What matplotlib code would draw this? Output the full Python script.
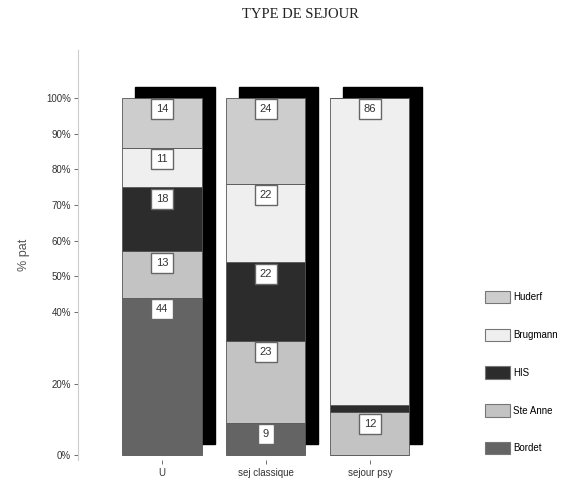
import numpy as np
import matplotlib.pyplot as plt
from matplotlib.patches import Rectangle, Patch

# Data: share of stays (%) per hospital, for each type of stay

stay_types = ["U", "sej classique", "sejour psy"]
hospitals = ["Bordet", "Ste Anne", "HIS", "Brugmann", "Huderf"]

bordet = [44, 9, 0]
ste_anne = [13, 23, 12]
his = [18, 22, 2]
brugmann = [11, 22, 86]
huderf = [14, 24, 0]

colors = ["#646464", "#c3c3c3", "#2c2c2c", "#efefef", "#cdcdcd"]

y_ticks = [0, 20, 40, 50, 60, 70, 80, 90, 100]
y_tick_labels = ["0%", "20%", "40%", "50%", "60%", "70%", "80%", "90%", "100%"]

series = [bordet, ste_anne, his, brugmann, huderf]

# Figure layout

fig = plt.figure(figsize=(5.77, 4.88), dpi=100)
ax = fig.add_axes([78 / 577, 1 - 460 / 488, 372 / 577, 410 / 488])

x = np.arange(len(stay_types))
width = 0.76
depth_x = 0.125
depth_y = 3.0

# Black depth block behind each bar
for i in range(len(x)):
    ax.add_patch(Rectangle((x[i] - width / 2 + depth_x, depth_y), width, 100,
                           facecolor="black", edgecolor="black", zorder=1))

# Stacked segments
bottom = np.zeros(len(x))
for values, color in zip(series, colors):
    values = np.array(values, dtype=float)
    ax.bar(x, values, width, bottom=bottom, color=color,
           edgecolor="#555555", linewidth=0.6, zorder=2)

    # value boxes near the top of each segment
    for i in range(len(x)):
        if values[i] >= 5:
            ax.text(x[i], bottom[i] + values[i] - 3.2, f"{values[i]:.0f}",
                    ha="center", va="center", fontsize=8, color="#333333",
                    family="Liberation Sans", zorder=4,
                    bbox=dict(boxstyle="square,pad=0.45", facecolor="white",
                              edgecolor="#666666", linewidth=1.0))
    bottom += values

ax.set_xlim(-0.808, 2.77)
ax.set_ylim(-1.4, 113.4)

ax.set_xticks(x)
ax.set_xticklabels(stay_types, fontsize=7, family="Liberation Sans")
ax.set_yticks(y_ticks)
ax.set_yticklabels(y_tick_labels, fontsize=7, family="Liberation Sans")
ax.tick_params(axis="y", length=3, width=0.6, colors="#555555", pad=2)
ax.tick_params(axis="x", length=3, width=0.6, colors="#555555", pad=3)
for lab in ax.get_xticklabels() + ax.get_yticklabels():
    lab.set_color("#333333")

for side in ["top", "right", "bottom"]:
    ax.spines[side].set_visible(False)
ax.spines["left"].set_color("#cccccc")
ax.spines["left"].set_linewidth(0.8)

ax.set_ylabel("% pat", fontsize=9, family="Liberation Sans", color="#555555",
              labelpad=12)

# Title
fig.text(300 / 577, 1 - 15 / 488, "TYPE DE SEJOUR", ha="center", va="center",
         fontsize=10.5, family="Liberation Serif", color="#222222")

# Legend, top entry is Huderf
handles = [Patch(facecolor=c, edgecolor="#777777", linewidth=0.8) for c in colors]
fig.legend(handles[::-1], hospitals[::-1], loc="upper left",
           bbox_to_anchor=(480 / 577, 1 - 286 / 488), frameon=False,
           prop={"family": "Liberation Sans", "size": 7},
           handlelength=2.6, handleheight=1.6, labelspacing=2.6,
           handletextpad=0.3, borderpad=0)

plt.savefig("out.png", dpi=100)
